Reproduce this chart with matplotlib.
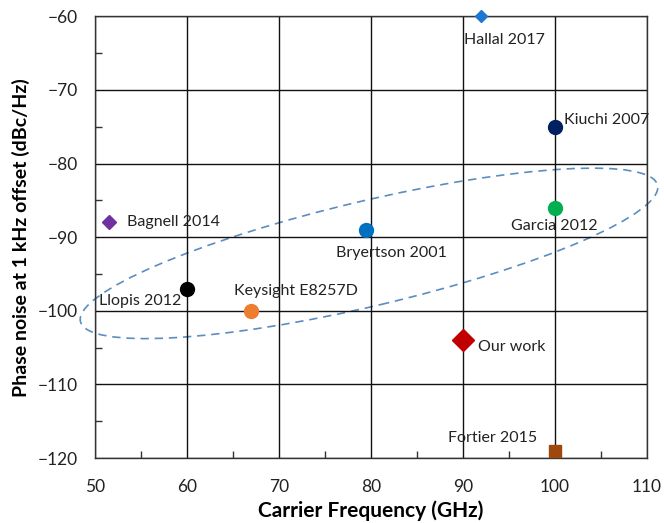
import matplotlib.pyplot as plt
from matplotlib.patches import Ellipse
from matplotlib.transforms import ScaledTranslation
from matplotlib.ticker import MultipleLocator

plt.rcParams['font.family'] = ['Lato', 'DejaVu Sans']

# ---------- data ----------
names = ["Hallal 2017", "Kiuchi 2007", "Garcia 2012", "Bryertson 2001", "Bagnell 2014",
         "Llopis 2012", "Keysight E8257D", "Our work", "Fortier 2015"]
freq = [92, 100, 100, 79.5, 51.5, 60, 67, 90, 100]
noise = [-60, -75, -86, -89, -88, -97, -100, -104, -119]
colors = ["#1F77D0", "#002060", "#00B050", "#0070C0", "#7030A0",
          "#000000", "#ED7D31", "#C00000", "#9E480E"]
markers = ["D", "o", "o", "o", "D", "o", "o", "D", "s"]
msizes = [6, 10, 10, 10, 7, 10, 10, 11, 8]
# label offsets in points and alignment
offsets = [(17, -17), (7, 5), (0, -13), (18, -17), (13, 0), (-4, -9), (32, 14), (11, -5), (-13, 9)]
aligns = ["center", "left", "center", "center", "left", "right", "center", "left", "right"]

fig = plt.figure(figsize=(6.64, 5.23), dpi=100)
ax = fig.add_axes([0.143, 0.124, 0.831, 0.845])

ax.set_xlim(50, 110)
ax.set_ylim(-120, -60)
ax.xaxis.set_major_locator(MultipleLocator(10))
ax.yaxis.set_major_locator(MultipleLocator(10))
ax.xaxis.set_minor_locator(MultipleLocator(5))
ax.yaxis.set_minor_locator(MultipleLocator(5))
ax.tick_params(which='major', length=0, labelsize=12.5, labelcolor='#222222')
ax.tick_params(axis='x', which='major', pad=15)
ax.tick_params(axis='y', which='major', pad=12)
ax.tick_params(which='minor', direction='in', length=5, width=1, color='#333333')
ax.grid(True, which='major', color='#111111', linewidth=1)
for s in ax.spines.values():
    s.set_color('#333333')
    s.set_linewidth(1)

for n, x, y, c, m, ms, off, ha in zip(names, freq, noise, colors, markers, msizes, offsets, aligns):
    ax.plot(x, y, marker=m, color=c, markersize=ms, linestyle='none', clip_on=False, zorder=5)
    ax.annotate(n, (x, y), xytext=off, textcoords='offset points', ha=ha, va='center',
                fontsize=11.5, color='#222222')

# dashed ellipse around the cluster (size in inches, centred on a data point)
el = Ellipse((0, 0), 5.93, 1.05, angle=13.3, fill=False, linestyle=(0, (5, 3.5)),
             edgecolor='#5B8DC0', linewidth=1.2, clip_on=False,
             transform=fig.dpi_scale_trans + ScaledTranslation(79.8, -92.2, ax.transData))
ax.add_patch(el)

ax.set_xlabel("Carrier Frequency (GHz)", fontsize=15, fontweight='bold', labelpad=4)
ax.set_ylabel("Phase noise at 1 kHz offset (dBc/Hz)", fontsize=14, fontweight='bold', labelpad=6)

fig.savefig("out.png", dpi=100)
